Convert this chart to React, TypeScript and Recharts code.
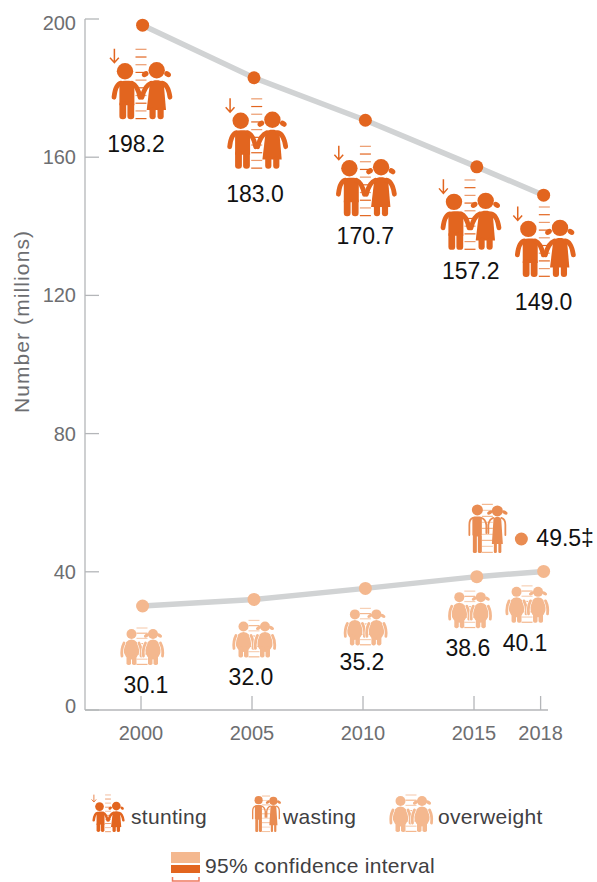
import React from 'react';
import { LineChart, Line, XAxis, YAxis } from 'recharts';

const years = [2000, 2005, 2010, 2015, 2018];
const stunting = [198.2, 183.0, 170.7, 157.2, 149.0];
const overweight = [30.1, 32.0, 35.2, 38.6, 40.1];
const wastingYear = [2017];
const wasting = [49.5];
const yTicks = [0, 40, 80, 120, 160, 200];

const rows = years.map((year, i) => ({ year, stunting: stunting[i], overweight: overweight[i] }));
const wastingRows = wastingYear.map((year, i) => ({ year, wasting: wasting[i] }));

const DARK = '#e2651f';
const MID = '#e98c52';
const LIGHT = '#f4b88f';
const FONT = '"Liberation Sans", Arial, sans-serif';

// hand placement of the icon and value next to each point, relative to the dot
const stuntIcon = [[-1.6, 94], [2.7, 91], [0, 96], [-6.8, 83], [0.7, 81.7]];
const stuntText = [[-6.6, 127], [1, 124], [0, 124], [-6, 112], [0, 115]];
const overIcon = [[-0.6, 59], [0, 58], [0, 57], [-7, 51.5], [-16.6, 51.4]];
const overText = [[3.4, 87], [-3, 86], [-3.4, 82], [-9, 79.5], [-18.6, 79.4]];

function Ruler({ top, color, step = 7.7 }: { top: number; color: string; step?: number }) {
  const rungs = [];
  let i = 0;
  for (let y = 0; y > top; y -= step) {
    rungs.push(<line key={i} x1={-5.5} x2={5.5} y1={y - 0.6} y2={y - 0.6} stroke={color} strokeWidth={1.2} opacity={i % 2 === 0 ? 1 : 0.65} />);
    i += 1;
  }
  return <g>{rungs}</g>;
}

function Tail({ cx, cy, turn, rx, ry, color }: any) {
  return <ellipse cx={cx} cy={cy} rx={rx} ry={ry} fill={color} transform={`rotate(${turn} ${cx} ${cy})`} />;
}

function StuntKids({ x, y, scale = 1 }: any) {
  const c = DARK;
  return (
    <g transform={`translate(${x},${y}) scale(${scale})`}>
      <Ruler top={-70} color={c} />
      <path d="M-26.6 -70.5 V-57 M-31 -61.5 L-26.6 -56.5 L-22.2 -61.5" fill="none" stroke={c} strokeWidth={1.5} />
      <circle cx={-16} cy={-48} r={8.2} fill={c} />
      <path d="M-21.6 -14 V-33 Q-21.6 -38.5 -16 -38.5 H-12 Q-6.6 -38.5 -6.6 -33 V-14 Z" fill={c} />
      <path d="M-20 -36 Q-25.5 -35 -27 -22 M-9 -36 Q-3.5 -34 -1 -22" stroke={c} strokeWidth={4.8} strokeLinecap="round" fill="none" />
      <rect x={-21.6} y={-18} width={6.8} height={18} rx={3.2} fill={c} />
      <rect x={-13.6} y={-18} width={6.8} height={18} rx={3.2} fill={c} />
      <circle cx={15.7} cy={-49} r={8.2} fill={c} />
      <Tail cx={4.2} cy={-45} rx={3.6} ry={2.6} turn={-35} color={c} />
      <Tail cx={26.6} cy={-45} rx={3.6} ry={2.6} turn={35} color={c} />
      <path d="M15.7 -39 C10 -39 9 -37 8.5 -33 L5.7 -9.3 H25 L23 -33 C22.5 -37 21 -39 15.7 -39 Z" fill={c} />
      <path d="M10 -36 Q4 -34 1 -22 M21 -36 Q27 -35 29 -22" stroke={c} strokeWidth={4.8} strokeLinecap="round" fill="none" />
      <rect x={8.5} y={-12} width={6.2} height={12} rx={3} fill={c} />
      <rect x={16.5} y={-12} width={6.2} height={12} rx={3} fill={c} />
    </g>
  );
}

function ThinKids({ x, y, scale = 1 }: any) {
  const c = MID;
  return (
    <g transform={`translate(${x},${y}) scale(${scale})`}>
      <Ruler top={-50} color={LIGHT} step={6} />
      <circle cx={-10} cy={-43} r={5.5} fill={c} />
      <rect x={-15} y={-36.5} width={9.5} height={20} rx={2} fill={c} />
      <path d="M-14.5 -35 Q-18 -34 -18 -28 V-18 M-6 -35 Q-2 -34 -1 -28 V-20" stroke={c} strokeWidth={1.8} fill="none" strokeLinecap="round" />
      <rect x={-14.5} y={-18} width={4} height={18} rx={1.5} fill={c} />
      <rect x={-9.5} y={-18} width={4} height={18} rx={1.5} fill={c} />
      <circle cx={10} cy={-42} r={5.5} fill={c} />
      <Tail cx={2.5} cy={-40.5} rx={3} ry={1.8} turn={-30} color={c} />
      <Tail cx={17.5} cy={-40.5} rx={3} ry={1.8} turn={30} color={c} />
      <path d="M10 -36 C7 -36 6 -35 6 -32 L4.5 -9 H15.5 L14 -32 C14 -35 13 -36 10 -36 Z" fill={c} />
      <path d="M6 -35 Q2 -34 1 -28 V-20 M14 -35 Q18 -34 18 -28 V-18" stroke={c} strokeWidth={1.8} fill="none" strokeLinecap="round" />
      <rect x={6.5} y={-12} width={3} height={12} rx={1.2} fill={c} />
      <rect x={11} y={-12} width={3} height={12} rx={1.2} fill={c} />
    </g>
  );
}

function FatKids({ x, y, scale = 1 }: any) {
  const c = LIGHT;
  const arms = (cx: number) => `M${cx - 7.5} -22 Q${cx - 10.5} -16 ${cx - 9.5} -9 M${cx + 7.5} -22 Q${cx + 10.5} -16 ${cx + 9.5} -9`;
  return (
    <g transform={`translate(${x},${y}) scale(${scale})`}>
      <Ruler top={-37} color={c} step={5.2} />
      <circle cx={-10.5} cy={-31} r={5} fill={c} />
      <ellipse cx={-10.5} cy={-15.5} rx={8} ry={10} fill={c} />
      <path d={arms(-10.5)} stroke="#fff" strokeWidth={4} fill="none" strokeLinecap="round" />
      <path d={arms(-10.5)} stroke={c} strokeWidth={2.8} fill="none" strokeLinecap="round" />
      <rect x={-15.5} y={-11} width={4.5} height={11} rx={1.8} fill={c} />
      <rect x={-10} y={-11} width={4.5} height={11} rx={1.8} fill={c} />
      <circle cx={11} cy={-31} r={5} fill={c} />
      <Tail cx={4.5} cy={-29.5} rx={2.8} ry={1.7} turn={-30} color={c} />
      <Tail cx={17.5} cy={-29.5} rx={2.8} ry={1.7} turn={30} color={c} />
      <ellipse cx={11} cy={-15.5} rx={8} ry={10} fill={c} />
      <path d={arms(11)} stroke="#fff" strokeWidth={4} fill="none" strokeLinecap="round" />
      <path d={arms(11)} stroke={c} strokeWidth={2.8} fill="none" strokeLinecap="round" />
      <rect x={6} y={-11} width={4.5} height={11} rx={1.8} fill={c} />
      <rect x={11.5} y={-11} width={4.5} height={11} rx={1.8} fill={c} />
    </g>
  );
}

const valueStyle = { fontFamily: FONT, fontSize: 23, fill: '#111' };

function StuntLabel({ x, y, index, value }: any) {
  return (
    <g>
      <StuntKids x={x + stuntIcon[index][0]} y={y + stuntIcon[index][1]} />
      <text x={x + stuntText[index][0]} y={y + stuntText[index][1]} textAnchor="middle" {...valueStyle}>
        {Number(value).toFixed(1)}
      </text>
    </g>
  );
}

function OverLabel({ x, y, index, value }: any) {
  return (
    <g>
      <FatKids x={x + overIcon[index][0]} y={y + overIcon[index][1]} />
      <text x={x + overText[index][0]} y={y + overText[index][1]} textAnchor="middle" {...valueStyle}>
        {Number(value).toFixed(1)}
      </text>
    </g>
  );
}

function WastingLabel({ x, y, value }: any) {
  return (
    <g>
      <ThinKids x={x - 34} y={y + 14} />
      <text x={x + 15} y={y + 7.5} {...valueStyle}>{Number(value).toFixed(1)}‡</text>
    </g>
  );
}

function YTick({ y, payload }: any) {
  // the end labels sit a little inside the axis in the original
  const shift = payload.value === 0 ? -4 : payload.value === 200 ? 4 : 0;
  return (
    <g>
      <line x1={85} x2={99} y1={y} y2={y} stroke="#b4b6b9" strokeWidth={1.3} />
      <text x={76} y={y + shift + 7} textAnchor="end" fontFamily={FONT} fontSize={20} fill="#6d6e71">
        {payload.value}
      </text>
    </g>
  );
}

function YTitle() {
  return (
    <text transform="translate(28.5,321.5) rotate(-90)" textAnchor="middle" fontFamily={FONT} fontSize={21} letterSpacing={1.1} fill="#6d6e71">
      Number (millions)
    </text>
  );
}

const legendText: React.CSSProperties = {
  position: 'absolute',
  fontFamily: FONT,
  fontSize: 21,
  letterSpacing: 0.3,
  color: '#414042',
  lineHeight: '24px',
  whiteSpace: 'nowrap',
};

function ChartLegend() {
  return (
    <>
      <svg width={597} height={882} style={{ position: 'absolute', left: 0, top: 0, pointerEvents: 'none' }}>
        <StuntKids x={108} y={832} scale={0.53} />
        <ThinKids x={266} y={832} scale={0.74} />
        <FatKids x={411} y={832} />
        <rect x={171} y={852} width={29} height={11} fill={LIGHT} />
        <rect x={171} y={865} width={29} height={8} fill={DARK} />
        <path d="M172.5 877 V881 H199 V877" fill="none" stroke="#ef7a5f" strokeWidth={1.5} />
      </svg>
      <div style={{ ...legendText, left: 131, top: 805 }}>stunting</div>
      <div style={{ ...legendText, left: 283, top: 805 }}>wasting</div>
      <div style={{ ...legendText, left: 438, top: 805 }}>overweight</div>
      <div style={{ ...legendText, left: 205, top: 854 }}>95% confidence interval</div>
    </>
  );
}

export default function App() {
  return (
    <div style={{ position: 'absolute', left: 0, top: 0, width: 597, height: 882, background: '#fff', overflow: 'hidden' }}>
      <LineChart width={597} height={882} data={rows} margin={{ top: 19, right: 49, bottom: 132, left: 0 }}>
        <XAxis
          dataKey="year"
          type="number"
          domain={[1997.477, 2018.333]}
          ticks={years}
          height={40}
          tickSize={-14}
          tickMargin={30}
          interval={0}
          axisLine={{ stroke: '#b4b6b9', strokeWidth: 1.3 }}
          tickLine={{ stroke: '#b4b6b9', strokeWidth: 1.3 }}
          tick={{ fontFamily: FONT, fontSize: 20, fill: '#6d6e71' }}
        />
        {/* the points sit slightly off the printed ticks in the original, so they get their own hidden scale */}
        <XAxis xAxisId="points" dataKey="year" type="number" domain={[1997.415, 2018.196]} hide />
        <YAxis
          type="number"
          domain={[0, 200]}
          ticks={yTicks}
          width={85}
          interval={0}
          axisLine={{ stroke: '#b4b6b9', strokeWidth: 1.3 }}
          tickLine={false}
          tick={<YTick />}
          label={<YTitle />}
        />
        <Line
          xAxisId="points"
          dataKey="stunting"
          stroke="#d1d3d4"
          strokeWidth={5.5}
          dot={{ r: 6.5, fill: DARK, stroke: 'none', fillOpacity: 1 }}
          label={<StuntLabel />}
          isAnimationActive={false}
        />
        <Line
          xAxisId="points"
          dataKey="overweight"
          stroke="#d1d3d4"
          strokeWidth={5.5}
          dot={{ r: 6.5, fill: LIGHT, stroke: 'none', fillOpacity: 1 }}
          label={<OverLabel />}
          isAnimationActive={false}
        />
        <Line
          xAxisId="points"
          data={wastingRows}
          dataKey="wasting"
          stroke="none"
          dot={{ r: 6.5, fill: MID, stroke: 'none', fillOpacity: 1 }}
          label={<WastingLabel />}
          isAnimationActive={false}
        />
      </LineChart>
      <ChartLegend />
    </div>
  );
}
